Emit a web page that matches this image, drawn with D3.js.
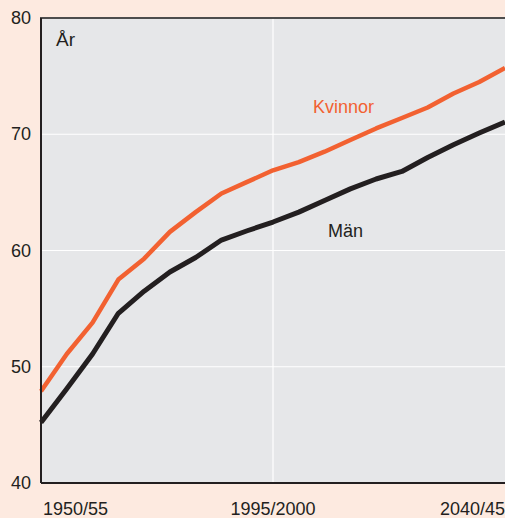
<!DOCTYPE html>
<html><head><meta charset="utf-8">
<script src="https://cdn.jsdelivr.net/npm/d3@7"></script>
<style>html,body{margin:0;padding:0;background:#fdeae0;}svg{display:block;}</style>
</head><body>
<svg id="c" width="505" height="518"></svg>
<script>
const periods = ["1950/55","1955/60","1960/65","1965/70","1970/75","1975/80","1980/85","1985/90","1990/95","1995/2000","2000/05","2005/10","2010/15","2015/20","2020/25","2025/30","2030/35","2035/40","2040/45"];
const kvinnor = [47.9,51.1,53.8,57.5,59.3,61.6,63.3,64.9,65.9,66.9,67.6,68.5,69.5,70.5,71.4,72.3,73.5,74.5,75.7];
const man = [45.2,48.1,51.1,54.6,56.5,58.15,59.4,60.9,61.7,62.45,63.3,64.3,65.3,66.15,66.8,68.0,69.1,70.1,71.05];
const xTicks = ["1950/55","1995/2000","2040/45"];
const yTicks = [40,50,60,70,80];

const svg = d3.select("#c");
const L=41, T=18, R=505, B=483;
const x = d3.scalePoint().domain(periods).range([L,R]);
const y = d3.scaleLinear().domain([40,80]).range([B,T]);

svg.append("rect").attr("x",L).attr("y",T).attr("width",R-L).attr("height",B-T).attr("fill","#e6e7e9");
// grid
svg.selectAll(".hg").data([50,60,70]).enter().append("line")
  .attr("x1",L).attr("x2",R).attr("y1",d=>y(d)).attr("y2",d=>y(d))
  .attr("stroke","#fff").attr("stroke-width",1.2);
svg.append("line").attr("x1",x("1995/2000")).attr("x2",x("1995/2000")).attr("y1",T).attr("y2",B)
  .attr("stroke","#fff").attr("stroke-width",1.2);

const line = d3.line().x((d,i)=>x(periods[i])).y(d=>y(d));
svg.append("path").datum(kvinnor).attr("d",line).attr("fill","none").attr("stroke","#f26131").attr("stroke-width",4.5).attr("stroke-linejoin","round");
svg.append("path").datum(man).attr("d",line).attr("fill","none").attr("stroke","#231f20").attr("stroke-width",5).attr("stroke-linejoin","round");

// frame
svg.append("path").attr("d",`M${L},${B}V${T}H${R}`).attr("fill","none").attr("stroke","#4d4d4d").attr("stroke-width",2);
svg.append("line").attr("x1",L).attr("x2",R).attr("y1",B).attr("y2",B).attr("stroke","#231f20").attr("stroke-width",2);
svg.append("line").attr("x1",L).attr("x2",L).attr("y1",T).attr("y2",B).attr("stroke","#231f20").attr("stroke-width",2);

const font = "'Liberation Sans', Arial, sans-serif";
svg.selectAll(".yt").data(yTicks).enter().append("text")
  .attr("x",31).attr("y",d=>y(d)+6).attr("text-anchor","end")
  .attr("font-family",font).attr("font-size",18).attr("fill","#231f20").text(d=>d);
svg.selectAll(".xt").data(xTicks).enter().append("text")
  .attr("x",d=>x(d)).attr("y",515)
  .attr("text-anchor",(d,i)=>i===0?"start":(i===xTicks.length-1?"end":"middle"))
  .attr("dx",(d,i)=>i===0?2:0)
  .attr("font-family",font).attr("font-size",18).attr("fill","#231f20").text(d=>d);

svg.append("text").attr("x",56).attr("y",46).attr("font-family",font).attr("font-size",19).attr("fill","#231f20").text("År");
svg.append("text").attr("x",313).attr("y",113).attr("font-family",font).attr("font-size",18).attr("fill","#f26131").text("Kvinnor");
svg.append("text").attr("x",328).attr("y",237).attr("font-family",font).attr("font-size",18).attr("fill","#231f20").text("Män");
</script>
</body></html>
